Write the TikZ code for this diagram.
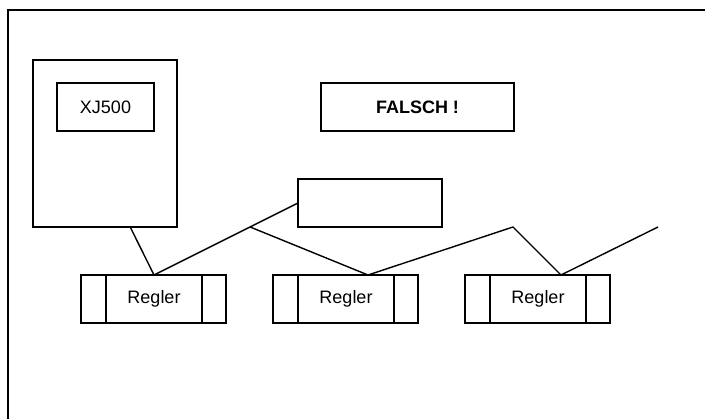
\documentclass[tikz,border=0pt]{standalone}
\usepackage{fontspec}
\setmainfont{Liberation Sans}
\usetikzlibrary{calc}
\begin{document}
\begin{tikzpicture}[x=1pt,y=-1pt,line width=1.4pt,
  box/.style={draw,rectangle,inner sep=0pt,outer sep=0pt,font=\fontsize{18}{21}\selectfont},
  conn/.style={draw,line width=1.4pt}]
\useasboundingbox (0,0) rectangle (705,419);
\begin{scope}
\clip (0,0) rectangle (705,419);
\draw (8,430) -- (8,10) -- (720,10);
\end{scope}
% controller cabinet
\node[box,minimum width=144pt,minimum height=167pt] (cab) at (105,143.5) {};
\node[box,minimum width=97pt,minimum height=48pt] (xj) at (105.5,107) {XJ500};
\node[box,minimum width=193pt,minimum height=48pt,font=\fontsize{18}{21}\selectfont\bfseries] (fal) at (417.5,107) {FALSCH !};
\node[box,minimum width=144pt,minimum height=48pt] (eb) at (370,203) {};
% Regler units
\foreach \n/\cx in {r1/154,r2/346,r3/538}{
  \node[box,minimum width=96pt,minimum height=48pt] (\n) at (\cx,299) {Regler};
  \draw ($(\n.north west)+(-25,0)$) rectangle (\n.south west);
  \draw (\n.north east) rectangle ($(\n.south east)+(24,0)$);
}
% connectors
\coordinate (c0) at ($(cab.south west)!0.675!(cab.south east)$);
\coordinate (j1) at ($(r1.north)!0.667!(eb.west)$);
\coordinate (t2) at ($(r2.north)+(22,0)$);
\coordinate (t3) at ($(r3.north)+(23,0)$);
\coordinate (j2) at (513,227);
\coordinate (e1) at (658,227);
\draw[conn] (c0) -- (r1.north);
\draw[conn] (r1.north) -- (eb.west);
\draw[conn] (j1) -- (t2) -- (j2) -- (t3) -- (e1);
\end{tikzpicture}
\end{document}
